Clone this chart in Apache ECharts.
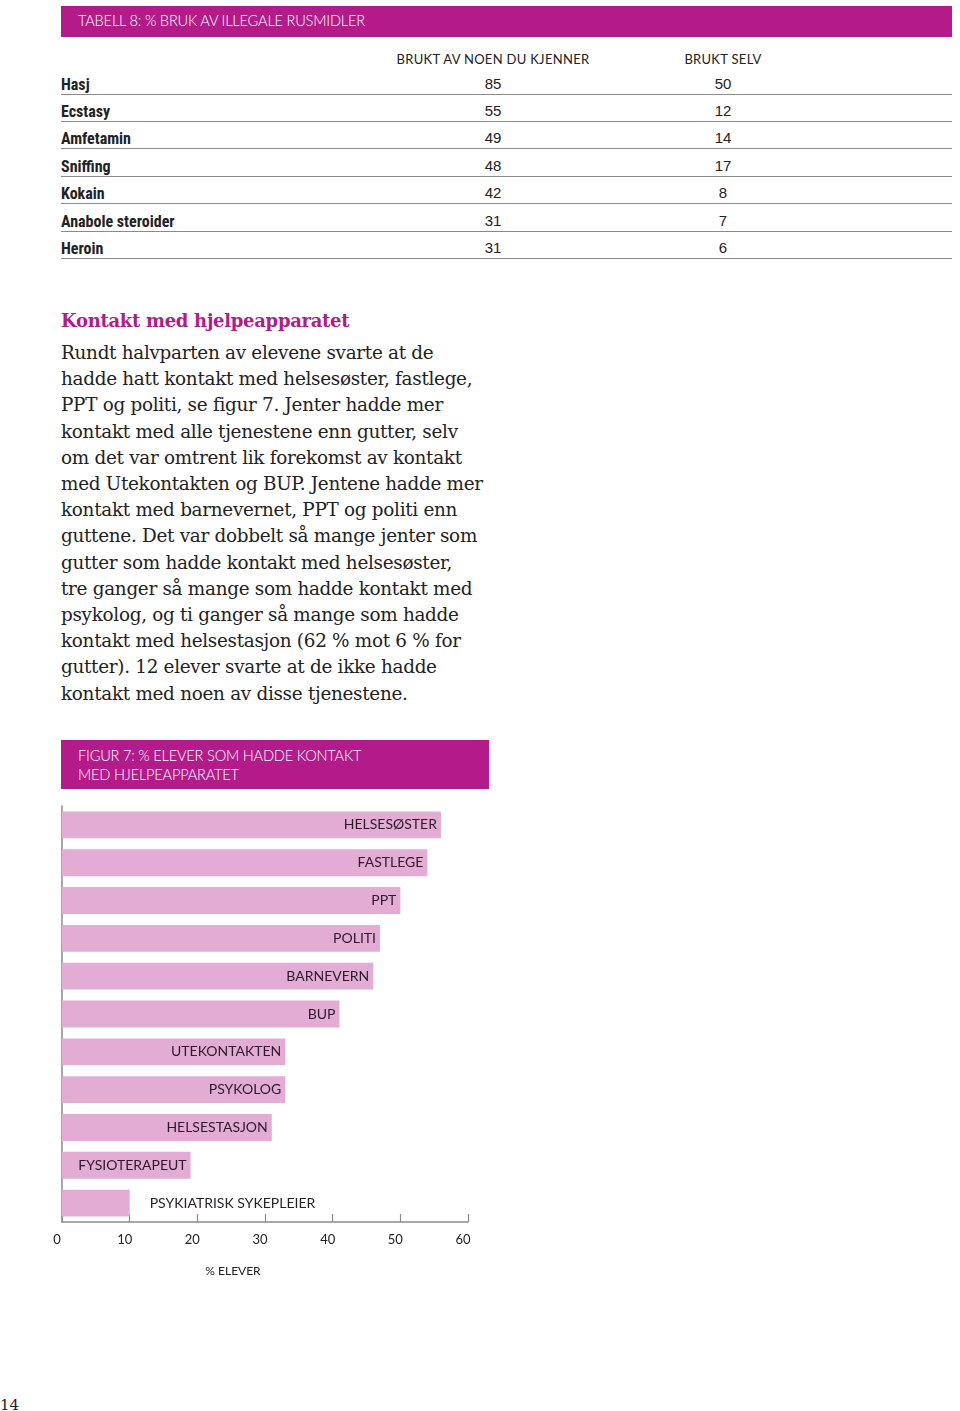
<!DOCTYPE html>
<html>
<head>
<meta charset="utf-8">
<script src="https://cdn.jsdelivr.net/npm/echarts@6/dist/echarts.min.js"></script>
<style>
  html, body { margin:0; padding:0; background:#fff; }
  body { width:960px; height:1411px; position:relative; overflow:hidden; font-family:"Lato","Open Sans",sans-serif; }
  .band { position:absolute; background:#b41b8a; color:#fff; font-family:"Lato",sans-serif; font-weight:300; font-size:14.6px; letter-spacing:-0.2px; }
  .colhead { position:absolute; top:51px; font-size:13px; color:#222; transform:translateX(-50%); white-space:nowrap; letter-spacing:0.3px; }
  .row { position:absolute; left:61px; width:891px; height:18px; border-bottom:1.5px solid #8a8a8a; }
  .row .name { position:absolute; left:0; top:-1px; font-family:"Liberation Sans Narrow","Roboto Condensed","Liberation Sans",sans-serif; font-weight:bold; font-size:16px; color:#222; }
  .row .v { position:absolute; top:-1px; font-family:"Liberation Sans Narrow","Liberation Sans",sans-serif; font-size:15px; color:#222; transform:translateX(-50%); }
  #heading { position:absolute; left:61px; top:310px; font-family:"DejaVu Serif",serif; font-weight:bold; font-size:18px; color:#b41b8a; letter-spacing:-0.3px; white-space:nowrap; }
  #body { position:absolute; left:61px; top:340px; font-family:"DejaVu Serif",serif; font-size:18.4px; line-height:26.2px; color:#222; white-space:nowrap; letter-spacing:-0.3px; }
  #chart { position:absolute; left:0; top:790px; width:960px; height:500px; }
  #pageno { position:absolute; left:0; top:1396px; font-family:"DejaVu Serif",serif; font-size:15px; color:#222; }
</style>
</head>
<body>
<div class="band" style="left:61px;top:6px;width:891px;height:31px;"><div style="position:absolute;left:17px;top:6px;">TABELL 8: % BRUK AV ILLEGALE RUSMIDLER</div></div>
<div class="colhead" style="left:493px;">BRUKT AV NOEN DU KJENNER</div>
<div class="colhead" style="left:723px;">BRUKT SELV</div>
<div id="rows"></div>

<div id="heading">Kontakt med hjelpeapparatet</div>
<div id="body"></div>

<div class="band" style="left:61px;top:740px;width:428px;height:49px;"><div style="position:absolute;left:17px;top:6px;line-height:19px;">FIGUR 7: % ELEVER SOM HADDE KONTAKT<br>MED HJELPEAPPARATET</div></div>
<div id="chart"></div>
<div id="pageno">14</div>

<script>
// ---- Table 8 data ----
const drugs = ["Hasj", "Ecstasy", "Amfetamin", "Sniffing", "Kokain", "Anabole steroider", "Heroin"];
const usedBySomeoneKnown = [85, 55, 49, 48, 42, 31, 31];
const usedSelf = [50, 12, 14, 17, 8, 7, 6];

// ---- Body text ----
const bodyLines = [
  "Rundt halvparten av elevene svarte at de",
  "hadde hatt kontakt med helsesøster, fastlege,",
  "PPT og politi, se figur 7. Jenter hadde mer",
  "kontakt med alle tjenestene enn gutter, selv",
  "om det var omtrent lik forekomst av kontakt",
  "med Utekontakten og BUP. Jentene hadde mer",
  "kontakt med barnevernet, PPT og politi enn",
  "guttene. Det var dobbelt så mange jenter som",
  "gutter som hadde kontakt med helsesøster,",
  "tre ganger så mange som hadde kontakt med",
  "psykolog, og ti ganger så mange som hadde",
  "kontakt med helsestasjon (62 % mot 6 % for",
  "gutter). 12 elever svarte at de ikke hadde",
  "kontakt med noen av disse tjenestene."
];

// ---- Figure 7 data ----
const services = ["HELSESØSTER", "FASTLEGE", "PPT", "POLITI", "BARNEVERN", "BUP",
  "UTEKONTAKTEN", "PSYKOLOG", "HELSESTASJON", "FYSIOTERAPEUT", "PSYKIATRISK SYKEPLEIER"];
const percentElever = [56, 54, 50, 47, 46, 41, 33, 33, 31, 19, 10];
const xTicks = [0, 10, 20, 30, 40, 50, 60];

// build table
const rowsEl = document.getElementById('rows');
drugs.forEach((d, i) => {
  const r = document.createElement('div');
  r.className = 'row';
  r.style.top = (75.5 + i * 27.4) + 'px';
  r.innerHTML = '<div class="name">' + d + '</div>' +
    '<div class="v" style="left:432px">' + usedBySomeoneKnown[i] + '</div>' +
    '<div class="v" style="left:662px">' + usedSelf[i] + '</div>';
  rowsEl.appendChild(r);
});
document.getElementById('body').innerHTML = bodyLines.join('<br>');

// chart
const chart = echarts.init(document.getElementById('chart'), null, {renderer: 'canvas'});
const barData = percentElever.map((v, i) => {
  const item = { value: v };
  if (i === percentElever.length - 1) {
    item.label = { position: 'right', distance: 20 };
  }
  return item;
});
chart.setOption({
  animation: false,
  grid: { left: 62, right: 492, top: 16, bottom: 68, containLabel: false },
  xAxis: {
    type: 'value', min: xTicks[0], max: xTicks[xTicks.length - 1], interval: 10,
    splitLine: { show: false },
    axisLine: { show: true, lineStyle: { color: '#8a8a8a', width: 1.5 } },
    axisTick: { show: true, inside: true, length: 8, lineStyle: { color: '#8a8a8a', width: 1.2 } },
    axisLabel: { color: '#222', fontSize: 13, fontFamily: 'Lato', margin: 11, padding: [0, 10, 0, 0] },
    name: '% ELEVER', nameLocation: 'middle', nameGap: 43,
    nameTextStyle: { color: '#222', fontSize: 12, fontFamily: 'Lato', padding: [0, 64, 0, 0] }
  },
  yAxis: {
    type: 'category', data: services, inverse: true,
    axisLine: { show: true, lineStyle: { color: '#8a8a8a', width: 1.5 } },
    axisTick: { show: false }, axisLabel: { show: false }, splitLine: { show: false }
  },
  series: [{
    type: 'bar', data: barData, barCategoryGap: '29%',
    itemStyle: { color: '#e2acd4' },
    label: {
      show: true, position: 'insideRight', distance: 4,
      formatter: p => services[p.dataIndex],
      color: '#2a1a2a', fontSize: 14, fontFamily: 'Lato'
    }
  }]
});
</script>
</body>
</html>
